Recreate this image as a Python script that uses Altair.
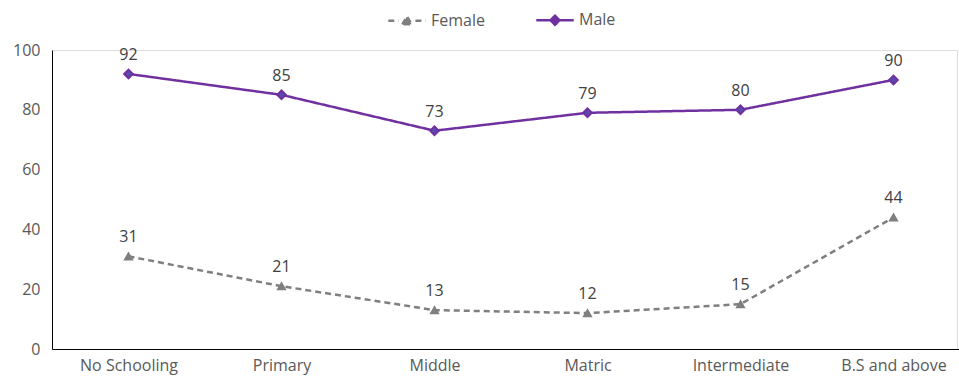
import altair as alt
import pandas as pd

# Education levels on the x axis
levels = ["No Schooling", "Primary", "Middle", "Matric", "Intermediate", "B.S and above"]
# Percentages by gender
female = [31, 21, 13, 12, 15, 44]
male = [92, 85, 73, 79, 80, 90]
genders = ["Female", "Male"]

rows = []
for lvl, f, m in zip(levels, female, male):
    rows.append({"Level": lvl, "Gender": "Female", "Value": f})
    rows.append({"Level": lvl, "Gender": "Male", "Value": m})
df = pd.DataFrame(rows)

FONT = "Open Sans"
GRAY = "#7f7f7f"
PURPLE = "#7030a0"
MALE_FILL = "#5a4aae"
W, H = 905, 299

# legend glyphs: line segment, marker, line segment
female_glyph = "M-1,0H-0.45M-0.25,0.2L0,-0.22L0.25,0.2ZM0.45,0H1"
male_glyph = "M-1,0H-0.26M0,-0.24L0.24,0L0,0.24L-0.24,0ZM0.26,0H1"

x = alt.X(
    "Level:N",
    sort=levels,
    scale=alt.Scale(range=[0, 918], paddingInner=0, paddingOuter=0),
    axis=alt.Axis(
        title=None, labelAngle=0, ticks=False, domainColor="#000000",
        domainWidth=1, labelFontSize=16, labelColor="#595959",
        labelFont=FONT, labelPadding=8,
    ),
)
y = alt.Y(
    "Value:Q",
    scale=alt.Scale(domain=[0, 100]),
    axis=alt.Axis(
        title=None, values=[0, 20, 40, 60, 80, 100], grid=False, ticks=False,
        domainColor="#000000", domainWidth=1, labelFontSize=16,
        labelColor="#595959", labelFont=FONT, labelPadding=12,
    ),
)
color = alt.Color(
    "Gender:N",
    scale=alt.Scale(domain=genders, range=[GRAY, PURPLE]),
    legend=alt.Legend(
        title=None, orient="none", direction="horizontal",
        legendX=335, legendY=-50, labelFontSize=16, labelColor="#595959",
        labelFont=FONT, symbolSize=1400, symbolStrokeWidth=2.5,
        columnPadding=46, labelOffset=4, padding=0,
    ),
)
dash = alt.StrokeDash(
    "Gender:N",
    scale=alt.Scale(domain=genders, range=[[6, 4], [1, 0]]),
    legend=alt.Legend(title=None),
)
glyph = alt.Shape(
    "Gender:N",
    scale=alt.Scale(domain=genders, range=[female_glyph, male_glyph]),
    legend=alt.Legend(title=None),
)

base = alt.Chart(df)

lines = base.mark_line(strokeWidth=2.5).encode(x=x, y=y, color=color, strokeDash=dash)

# empty layer that only supplies the legend glyphs
key = base.transform_filter("datum.Value < 0").mark_point(
    filled=True, opacity=1, strokeWidth=2.5
).encode(x=x, y=y, color=color, shape=glyph, strokeDash=dash)

female_pts = base.transform_filter("datum.Gender === 'Female'").mark_point(
    shape="triangle-up", filled=True, opacity=1, size=60,
    fill=GRAY, stroke=GRAY, strokeWidth=1.5,
).encode(x=x, y=y)

male_pts = base.transform_filter("datum.Gender === 'Male'").mark_point(
    shape="diamond", filled=True, opacity=1, size=75,
    fill=MALE_FILL, stroke=PURPLE, strokeWidth=2,
).encode(x=x, y=y)

labels = base.mark_text(
    baseline="bottom", dy=-11, fontSize=16, color="#404040", font=FONT
).encode(x=x, y=y, text="Value:Q")

chart = (
    alt.layer(lines, key, female_pts, male_pts, labels)
    .properties(
        width=W, height=H,
        autosize=alt.AutoSizeParams(type="none"),
        padding={"left": 52, "top": 50, "right": 2, "bottom": 28},
    )
    .configure_view(stroke=None)
    .configure(background="white")
)

chart.save("out.html", embed_options={"renderer": "svg", "actions": False})
